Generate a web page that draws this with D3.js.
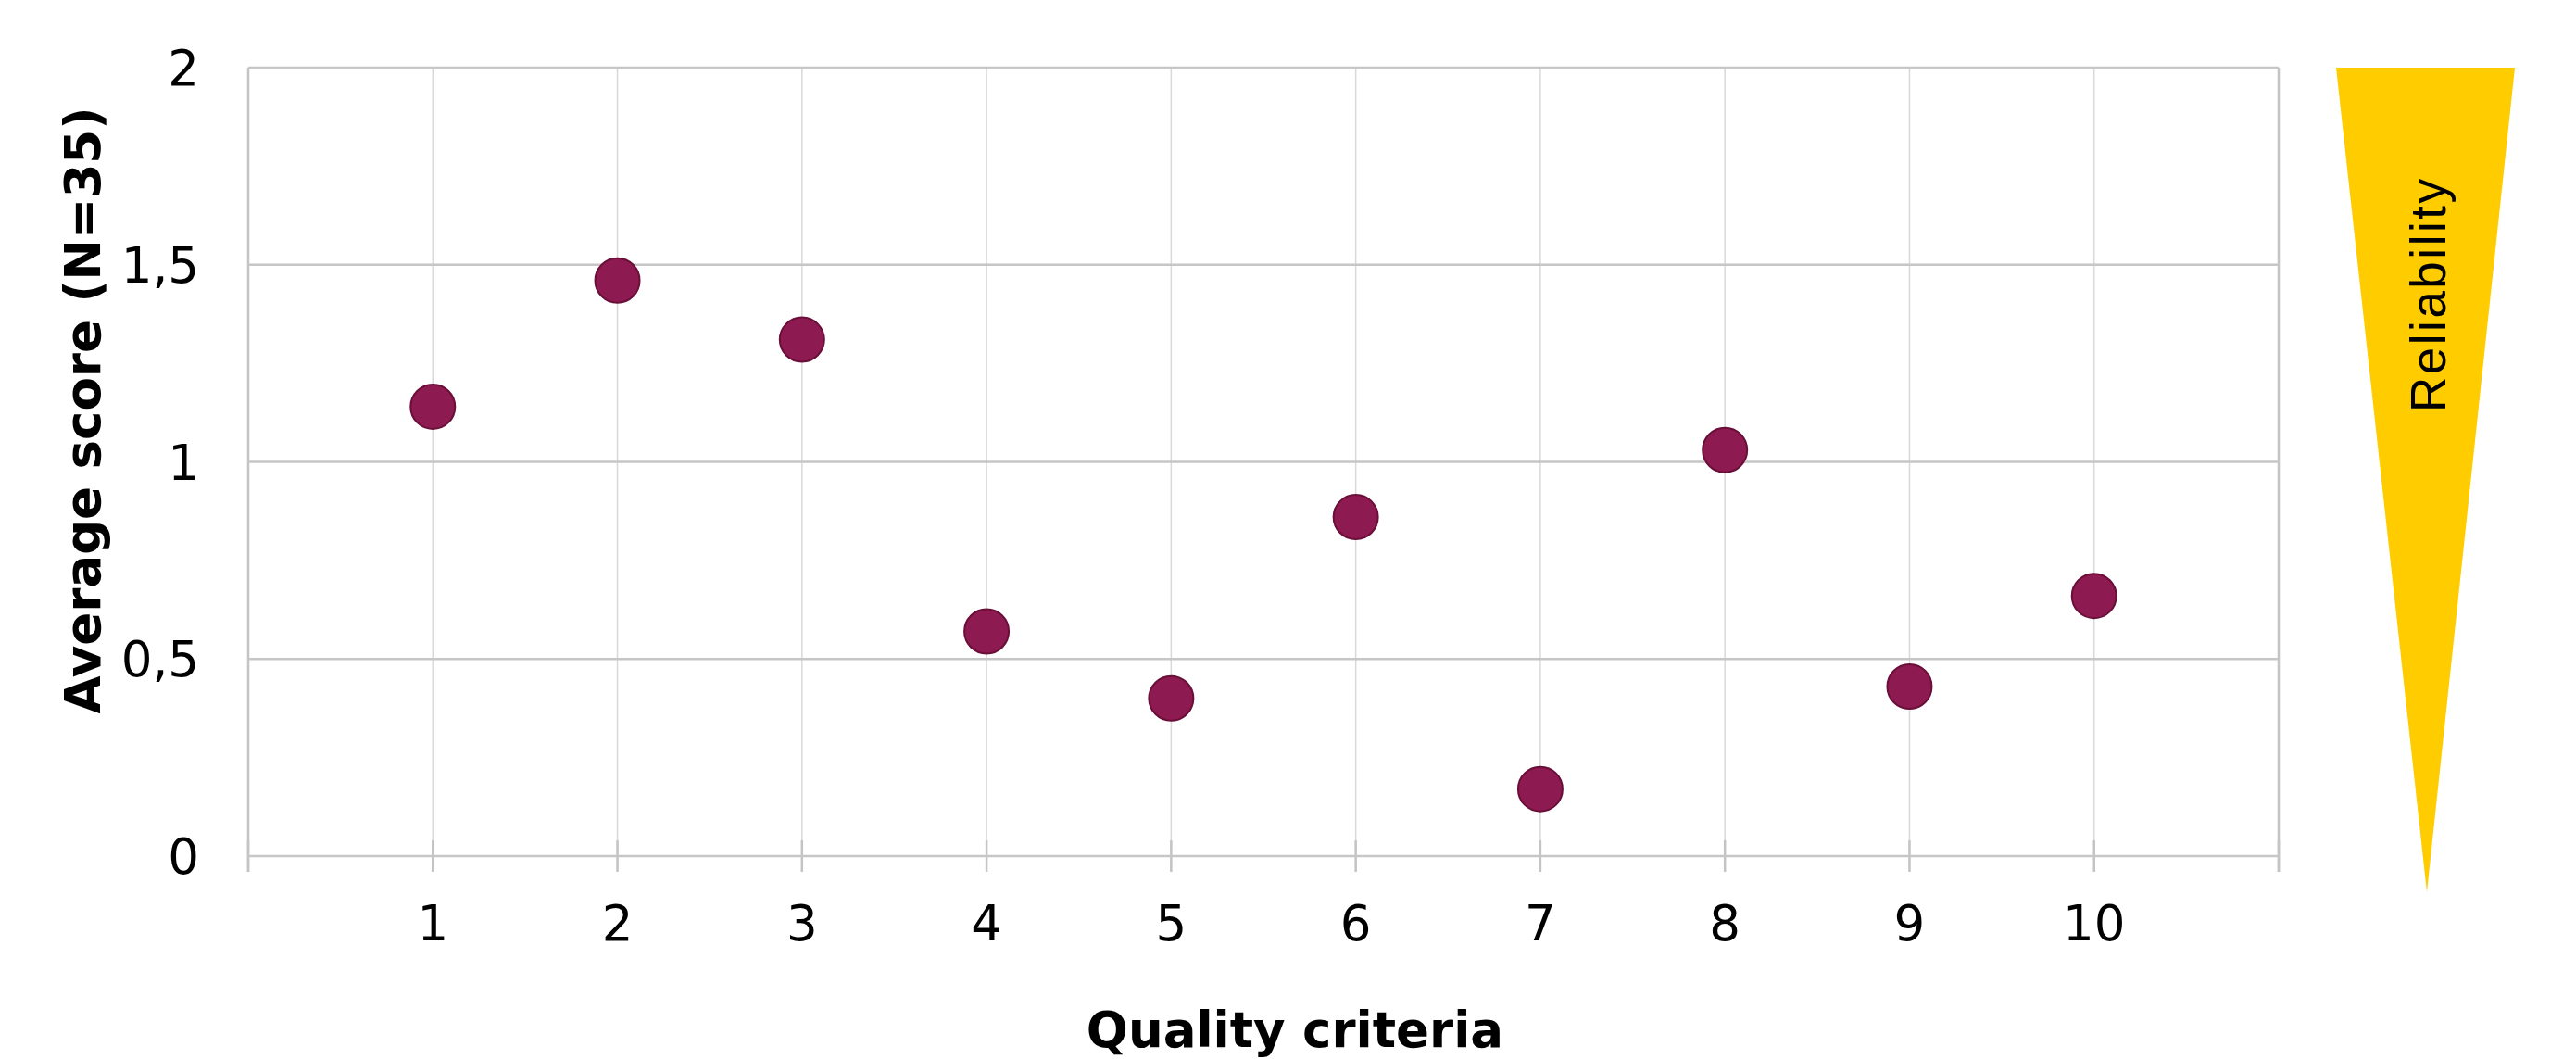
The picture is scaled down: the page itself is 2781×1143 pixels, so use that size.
<!DOCTYPE html>
<html>
<head>
<meta charset="utf-8">
<script src="https://cdn.jsdelivr.net/npm/d3@7"></script>
<style>
  html, body { margin: 0; padding: 0; background: #fff; }
  svg { display: block; }
</style>
</head>
<body>
<div id="chart"></div>
<script>
// Data: average score per quality criterion (N=35)
const criteria = [1, 2, 3, 4, 5, 6, 7, 8, 9, 10];
const avgScores = [1.14, 1.46, 1.31, 0.57, 0.4, 0.86, 0.17, 1.03, 0.43, 0.66];
const yTicks = [0, 0.5, 1, 1.5, 2];
const xTickMarks = [0, 1, 2, 3, 4, 5, 6, 7, 8, 9, 10, 11];

const width = 2781;
const height = 1143;
const margin = { top: 73, right: 321, bottom: 219, left: 268 };
const plotW = width - margin.left - margin.right;
const plotH = height - margin.top - margin.bottom;

const svg = d3
  .select("#chart")
  .append("svg")
  .attr("width", width)
  .attr("height", height);

const x = d3.scaleLinear().domain([0, 11]).range([margin.left, margin.left + plotW]);
const y = d3.scaleLinear().domain([0, 2]).range([margin.top + plotH, margin.top]);

const fmt = (d) => String(d).replace(".", ",");

// Vertical gridlines
svg
  .append("g")
  .selectAll("line")
  .data(xTickMarks)
  .join("line")
  .attr("x1", (d) => x(d))
  .attr("x2", (d) => x(d))
  .attr("y1", y(2))
  .attr("y2", y(0) + 17)
  .attr("stroke", (d) => (d === 0 || d === 11 ? "#c4c4c4" : "#d9d9d9"))
  .attr("stroke-width", (d) => (d === 0 || d === 11 ? 2.5 : 1.5));

// Tick marks crossing the x axis
svg
  .append("g")
  .selectAll("line")
  .data(xTickMarks)
  .join("line")
  .attr("x1", (d) => x(d))
  .attr("x2", (d) => x(d))
  .attr("y1", y(0) - 17)
  .attr("y2", y(0) + 17)
  .attr("stroke", "#c4c4c4")
  .attr("stroke-width", 2.5);

// Horizontal gridlines
svg
  .append("g")
  .selectAll("line")
  .data(yTicks)
  .join("line")
  .attr("x1", x(0))
  .attr("x2", x(11))
  .attr("y1", (d) => y(d))
  .attr("y2", (d) => y(d))
  .attr("stroke", "#c6c6c6")
  .attr("stroke-width", 2.5);

// Y tick labels
svg
  .append("g")
  .selectAll("text")
  .data(yTicks)
  .join("text")
  .attr("x", 215)
  .attr("y", (d) => y(d))
  .attr("dy", "0.36em")
  .attr("text-anchor", "end")
  .attr("font-family", "DejaVu Sans, Verdana, sans-serif")
  .attr("font-size", 53)
  .attr("fill", "#000")
  .text(fmt);

// X tick labels
svg
  .append("g")
  .selectAll("text")
  .data(criteria)
  .join("text")
  .attr("x", (d) => x(d))
  .attr("y", 1015)
  .attr("text-anchor", "middle")
  .attr("font-family", "DejaVu Sans, Verdana, sans-serif")
  .attr("font-size", 53)
  .attr("fill", "#000")
  .text((d) => d);

// Points
svg
  .append("g")
  .selectAll("circle")
  .data(criteria.map((c, i) => ({ c, v: avgScores[i] })))
  .join("circle")
  .attr("cx", (d) => x(d.c))
  .attr("cy", (d) => y(d.v))
  .attr("r", 24)
  .attr("fill", "#8e1a52")
  .attr("stroke", "#6a0f38")
  .attr("stroke-width", 2);

// Axis titles
svg
  .append("text")
  .attr("transform", "translate(108,443) rotate(-90)")
  .attr("text-anchor", "middle")
  .attr("font-family", "DejaVu Sans, Verdana, sans-serif")
  .attr("font-weight", "bold")
  .attr("font-size", 53)
  .attr("fill", "#000")
  .text("Average score (N=35)");

svg
  .append("text")
  .attr("x", 1398)
  .attr("y", 1130)
  .attr("text-anchor", "middle")
  .attr("font-family", "DejaVu Sans, Verdana, sans-serif")
  .attr("font-weight", "bold")
  .attr("font-size", 53)
  .attr("fill", "#000")
  .text("Quality criteria");

// Reliability wedge
const wedge = d3.path();
wedge.moveTo(2522, y(2));
wedge.lineTo(2715, y(2));
wedge.lineTo(2620, 963);
wedge.closePath();

svg.append("path").attr("d", wedge.toString()).attr("fill", "#ffcc00");

svg
  .append("text")
  .attr("transform", "translate(2640,319) rotate(-90)")
  .attr("text-anchor", "middle")
  .attr("font-family", "Liberation Sans, Arial, sans-serif")
  .attr("font-size", 53)
  .attr("textLength", 252)
  .attr("lengthAdjust", "spacing")
  .attr("fill", "#000")
  .text("Reliability");
</script>
</body>
</html>
